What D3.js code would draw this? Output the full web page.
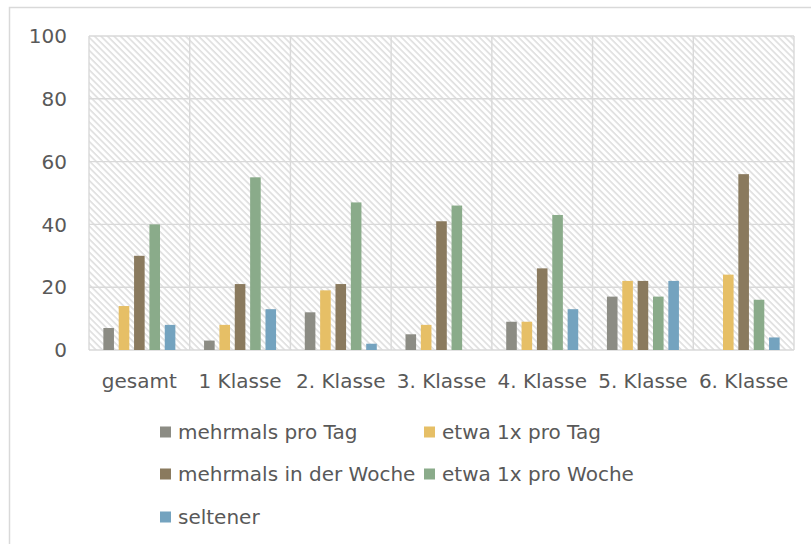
<!DOCTYPE html>
<html>
<head>
<meta charset="utf-8">
<script src="https://cdn.jsdelivr.net/npm/d3@7"></script>
<style>
  body { margin: 0; background: #fff; }
  svg text { font-family: "DejaVu Sans", sans-serif; fill: #595959; }
</style>
</head>
<body>
<div id="chart"></div>
<script>
// categories and series
const categories = ["gesamt", "1 Klasse", "2. Klasse", "3. Klasse", "4. Klasse", "5. Klasse", "6. Klasse"];
const seriesNames = ["mehrmals pro Tag", "etwa 1x pro Tag", "mehrmals in der Woche", "etwa 1x pro Woche", "seltener"];
const seriesColors = ["#8c8c84", "#e6bf66", "#8a7a5e", "#8aab8a", "#74a3bf"];

// values per series, one entry per category
const mehrmalsProTag = [7, 3, 12, 5, 9, 17, 0];
const etwa1xProTag = [14, 8, 19, 8, 9, 22, 24];
const mehrmalsInDerWoche = [30, 21, 21, 41, 26, 22, 56];
const etwa1xProWoche = [40, 55, 47, 46, 43, 17, 16];
const seltener = [8, 13, 2, 0, 13, 22, 4];
const yTicks = [0, 20, 40, 60, 80, 100];

const seriesValues = [mehrmalsProTag, etwa1xProTag, mehrmalsInDerWoche, etwa1xProWoche, seltener];

const width = 811, height = 544;
const margin = { top: 36, right: 17, bottom: 194, left: 89 };
const plotW = width - margin.left - margin.right;
const plotH = height - margin.top - margin.bottom;

const svg = d3.select("#chart")
    .append("svg")
    .attr("width", width)
    .attr("height", height);

// outer frame (only left + top visible)
svg.append("path")
    .attr("d", `M9.5,${height} L9.5,7.5 L${width},7.5`)
    .attr("fill", "none")
    .attr("stroke", "#d9d9d9")
    .attr("stroke-width", 1.5);

// hatch pattern for plot background
const defs = svg.append("defs");
const pat = defs.append("pattern")
    .attr("id", "hatch")
    .attr("patternUnits", "userSpaceOnUse")
    .attr("width", 4.6)
    .attr("height", 4.6)
    .attr("patternTransform", "rotate(45)");
pat.append("rect")
    .attr("x", 0).attr("y", 0)
    .attr("width", 4.6).attr("height", 1.6)
    .attr("fill", "#dedede");

const g = svg.append("g")
    .attr("transform", `translate(${margin.left},${margin.top})`);

const x0 = d3.scaleBand()
    .domain(categories)
    .range([0, plotW]);

const cw = x0.bandwidth();
const x1 = d3.scaleBand()
    .domain(seriesNames)
    .range([cw / 2 - 36, cw / 2 + 36])
    .paddingInner(0.31);

const y = d3.scaleLinear()
    .domain([0, 100])
    .range([plotH, 0]);

g.append("rect")
    .attr("width", plotW)
    .attr("height", plotH)
    .attr("fill", "url(#hatch)");

// horizontal gridlines
g.selectAll(".hgrid")
    .data(yTicks)
    .join("line")
    .attr("class", "hgrid")
    .attr("x1", 0).attr("x2", plotW)
    .attr("y1", d => y(d)).attr("y2", d => y(d))
    .attr("stroke", "#d9d9d9")
    .attr("stroke-width", 1.4);

// vertical gridlines at category borders
const borders = categories.map(c => x0(c)).concat([plotW]);
g.selectAll(".vgrid")
    .data(borders)
    .join("line")
    .attr("class", "vgrid")
    .attr("x1", d => d).attr("x2", d => d)
    .attr("y1", 0).attr("y2", plotH)
    .attr("stroke", "#d9d9d9")
    .attr("stroke-width", 1.4);

// bars
const barData = [];
categories.forEach((c, i) => {
    seriesNames.forEach((s, j) => {
        barData.push({ cat: c, series: s, value: seriesValues[j][i], color: seriesColors[j] });
    });
});

g.selectAll(".bar")
    .data(barData.filter(d => d.value > 0))
    .join("rect")
    .attr("class", "bar")
    .attr("x", d => x0(d.cat) + x1(d.series))
    .attr("y", d => y(d.value))
    .attr("width", x1.bandwidth())
    .attr("height", d => y(0) - y(d.value))
    .attr("fill", d => d.color);

// y tick labels
g.selectAll(".ylab")
    .data(yTicks)
    .join("text")
    .attr("class", "ylab")
    .attr("x", -22)
    .attr("y", d => y(d))
    .attr("dy", "0.36em")
    .attr("text-anchor", "end")
    .attr("font-size", "20px")
    .text(d => d);

// x labels
g.selectAll(".xlab")
    .data(categories)
    .join("text")
    .attr("class", "xlab")
    .attr("x", d => x0(d) + cw / 2)
    .attr("y", plotH + 38)
    .attr("text-anchor", "middle")
    .attr("font-size", "20px")
    .text(d => d);

// legend
const legendPos = [
    { x: 160, y: 432 }, { x: 424, y: 432 },
    { x: 160, y: 474 }, { x: 424, y: 474 },
    { x: 160, y: 517 }
];
const legend = svg.selectAll(".legend")
    .data(seriesNames)
    .join("g")
    .attr("class", "legend")
    .attr("transform", (d, i) => `translate(${legendPos[i].x},${legendPos[i].y})`);

legend.append("rect")
    .attr("x", 0).attr("y", -5.5)
    .attr("width", 11).attr("height", 11)
    .attr("fill", (d, i) => seriesColors[i]);

legend.append("text")
    .attr("x", 18)
    .attr("y", 0)
    .attr("dy", "0.36em")
    .attr("font-size", "20px")
    .text(d => d);
</script>
</body>
</html>
